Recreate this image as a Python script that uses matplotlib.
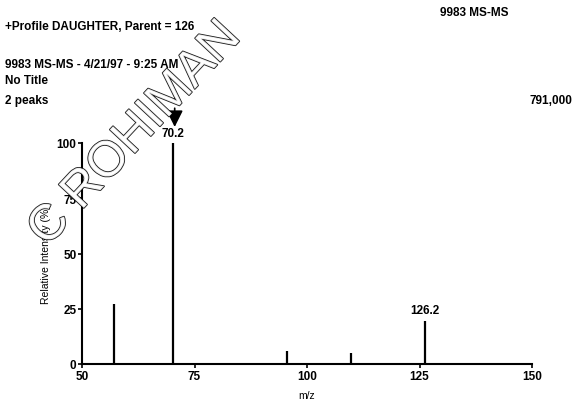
import numpy as np
import matplotlib.pyplot as plt
import matplotlib.patheffects as pe

plt.rcParams['font.family'] = ['Liberation Sans', 'DejaVu Sans']
plt.rcParams['font.weight'] = 'bold'

# peaks
mz = [57.0, 70.2, 95.5, 109.8, 126.2]
intensity = [27, 100, 6, 5, 19.5]
labels = {70.2: '70.2', 126.2: '126.2'}
xticks = [50, 75, 100, 125, 150]
yticks = [0, 25, 50, 75, 100]

fig = plt.figure(figsize=(5.75, 4.10), dpi=100)
ax = fig.add_axes([82/575, 1-365/410, 450/575, 221/410])

ax.vlines(mz, 0, intensity, color='black', linewidth=1.6)
for m, lab in labels.items():
    i = mz.index(m)
    ax.text(m, intensity[i] + 2, lab, ha='center', va='bottom', fontsize=8.5)

ax.set_xlim(50, 150)
ax.set_ylim(0, 100)
ax.set_xticks(xticks)
ax.set_yticks(yticks)
ax.spines['top'].set_visible(False)
ax.spines['right'].set_visible(False)
ax.spines['left'].set_linewidth(1.5)
ax.spines['bottom'].set_linewidth(1.5)
ax.tick_params(direction='out', length=3, width=1.2, labelsize=8.5, pad=1)
ax.set_xlabel('m/z', fontsize=7.5, labelpad=6)
ax.set_ylabel('Relative Intensity (%)', fontsize=7.5, labelpad=4)

# arrow above base peak
ax.annotate('', xy=(70.6, 106), xytext=(70.6, 117), xycoords='data',
            arrowprops=dict(arrowstyle='-|>,head_width=0.5,head_length=1.0',
                            color='black', lw=1.2), annotation_clip=False)

fig.text(440/575, 1-13/410, '9983 MS-MS', fontsize=8.5, va='center')
fig.text(5/575, 1-27/410, '+Profile DAUGHTER, Parent = 126', fontsize=8.5, va='center')
fig.text(5/575, 1-65/410, '9983 MS-MS - 4/21/97 - 9:25 AM', fontsize=8.5, va='center')
fig.text(5/575, 1-81/410, 'No Title', fontsize=8.5, va='center')
fig.text(5/575, 1-101/410, '2 peaks', fontsize=8.5, va='center')
fig.text(572/575, 1-101/410, '791,000', fontsize=8.5, va='center', ha='right')

# diagonal watermark
fig.text(135/575, 1-135/410, 'C ROHIMAN', fontsize=36, rotation=47, ha='center', va='center',
         color='white', fontweight='normal', alpha=0.9,
         path_effects=[pe.withStroke(linewidth=1.2, foreground='black')])

fig.savefig('out.png', dpi=100)
